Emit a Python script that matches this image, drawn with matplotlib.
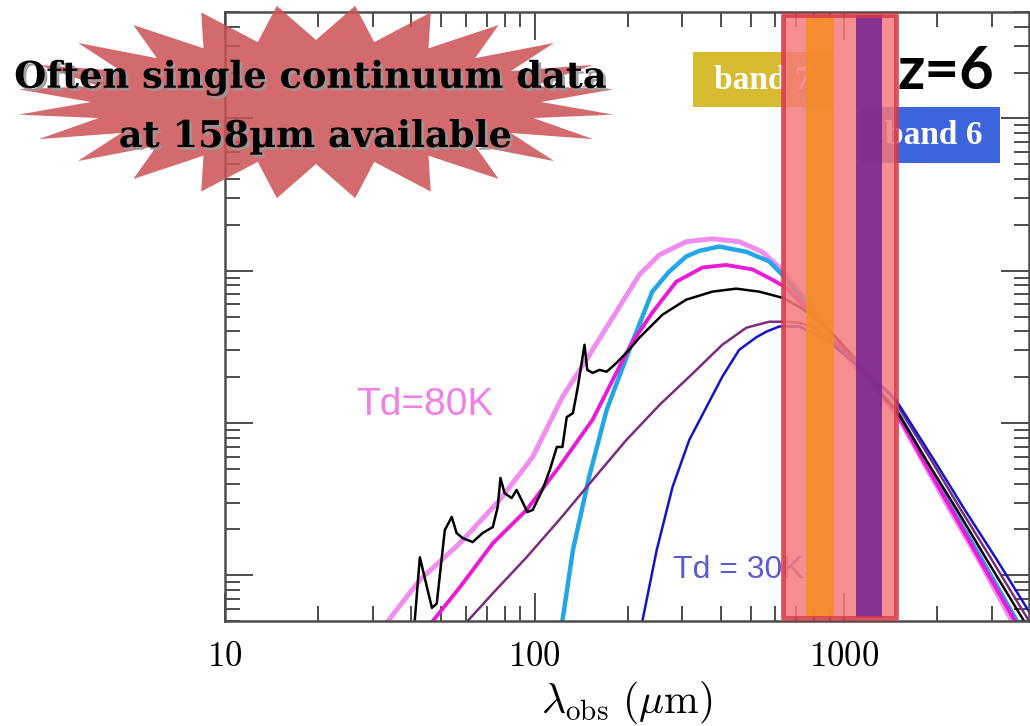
import matplotlib
matplotlib.use("Agg")
import matplotlib.pyplot as plt
import matplotlib.patheffects as pe
from matplotlib.patches import Polygon, Rectangle
from matplotlib.ticker import LogLocator, FuncFormatter, NullFormatter
import numpy as np

plt.rcParams['mathtext.fontset'] = 'cm'

lam_80k = [33.6, 42.6, 57.3, 77.1, 98.6, 123, 147, 188, 218, 253, 309, 375, 458,
           544, 631, 771, 964, 1230, 1472, 1786, 2198, 2723, 3483]
f_80k = [0.50, 0.93, 1.62, 3.11, 5.98, 14.8, 26.0, 58.0, 94.2, 127, 155, 162, 155,
         133, 101, 59.8, 31.6, 17.3, 11.6, 5.71, 2.68, 1.26, 0.50]

lam_cyan = [123, 133, 150, 171, 207, 240, 272, 309, 341, 395, 483, 573, 631, 771,
            964, 1472, 1825, 2248, 2789, 3616]
f_cyan = [0.50, 1.46, 4.41, 12.2, 34.1, 72.8, 98.5, 124, 135, 144, 133, 115, 94.2,
          57.1, 32.6, 12.2, 5.71, 2.68, 1.26, 0.50]

lam_mag = [46.9, 57.3, 73.3, 94.2, 120, 154, 188, 207, 240, 287, 349, 416, 505,
           586, 650, 771, 964, 1472, 1799, 2228, 2747, 3563]
f_mag = [0.50, 0.83, 1.62, 2.68, 5.14, 10.5, 23.4, 34.0, 53.0, 84.7, 105, 109, 102,
         87.3, 77.3, 53.5, 33.6, 11.8, 5.71, 2.68, 1.26, 0.50]

lam_obs = [41.0, 42.6, 46.6, 48.3, 51.3, 54.0, 56.0, 58.6, 63.1, 67.9, 73.3, 76.0,
           77.6, 80.0, 84.3, 87.5, 94.8, 98.6, 106, 112, 118, 123, 127, 133, 138,
           145, 148, 154, 162, 171, 184, 202, 218, 259, 309, 375, 448, 532, 631,
           716, 875, 1094, 1297, 1472, 1840, 2316, 2891, 3811]
f_obs = [0.50, 1.31, 0.61, 0.65, 1.98, 2.41, 1.89, 1.75, 1.65, 1.89, 2.07, 2.80,
         4.35, 3.46, 3.21, 3.63, 2.60, 2.68, 3.63, 4.91, 6.95, 6.95, 10.9, 11.6,
         17.3, 32.6, 22.3, 21.3, 22.3, 21.7, 24.8, 30.2, 36.3, 51.4, 64.5, 72.8,
         76.2, 72.8, 66.4, 58.0, 42.8, 26.0, 15.8, 12.2, 5.71, 2.68, 1.26, 0.50]

lam_purple = [60.8, 73.3, 94.2, 120, 154, 198, 253, 316, 404, 483, 573, 650, 716,
              788, 1062, 1397, 1472, 1909, 2385, 3000, 3955]
f_purple = [0.50, 0.76, 1.31, 2.30, 4.22, 7.73, 13.1, 20.1, 32.6, 42.2, 46.2, 46.2,
            45.5, 42.8, 27.2, 15.8, 13.5, 5.71, 2.68, 1.26, 0.50]

lam_30k = [223, 248, 279, 316, 359, 404, 458, 520, 560, 617, 716, 875, 1117, 1472,
           1951, 2455, 3116, 4130]
f_30k = [0.50, 1.46, 3.79, 7.73, 12.7, 20.1, 30.2, 36.5, 39.7, 43.0, 43.0, 35.2,
         23.4, 14.1, 5.71, 2.68, 1.26, 0.50]

# ALMA coverage (um)
alma_range = (635, 1472)
band7 = (754, 929)
band6 = (1094, 1327)

xticks = [10, 100, 1000]

fig = plt.figure(figsize=(10.30, 7.26), dpi=100)
ax = fig.add_axes([225 / 1030, 105 / 726, 804 / 1030, 609 / 726])
ax.set_xscale('log')
ax.set_yscale('log')
ax.set_xlim(10, 3955)
ax.set_ylim(0.5, 5000)

ax.plot(lam_80k, f_80k, color='#ee82ee', lw=3.6, alpha=0.9, zorder=2)
ax.plot(lam_cyan, f_cyan, color='#22a6e6', lw=3.2, zorder=2)
ax.plot(lam_mag, f_mag, color='#e81cd8', lw=2.8, zorder=2)
ax.plot(lam_obs, f_obs, color='black', lw=1.8, zorder=2)
ax.plot(lam_purple, f_purple, color='#7a2c80', lw=1.8, zorder=2)
ax.plot(lam_30k, f_30k, color='#1414cc', lw=1.8, zorder=2)

# band label boxes sit under the shaded ALMA range
ax.add_patch(Rectangle((0.582, 0.844), 0.174, 0.090, transform=ax.transAxes,
                       facecolor='#d6ba30', edgecolor='none', zorder=3))
ax.add_patch(Rectangle((0.790, 0.752), 0.174, 0.092, transform=ax.transAxes,
                       facecolor='#3c64dc', edgecolor='none', zorder=3))
ax.text(0.669, 0.887, 'band 7', transform=ax.transAxes, ha='center', va='center',
        color='white', fontsize=24, fontweight='bold', family='Liberation Serif', zorder=3)
ax.text(0.881, 0.797, 'band 6', transform=ax.transAxes, ha='center', va='center',
        color='white', fontsize=24, fontweight='bold', family='Liberation Serif', zorder=3)
ax.text(0.896, 0.902, 'z=6', transform=ax.transAxes, ha='center', va='center',
        color='black', fontsize=43, fontweight='bold', family='Lato', zorder=3)
ax.text(0.249, 0.355, 'Td=80K', transform=ax.transAxes, ha='center', va='center',
        color='#f080e8', fontsize=28, family='Liberation Sans', zorder=3)
ax.text(0.638, 0.084, 'Td = 30K', transform=ax.transAxes, ha='center', va='center',
        color='#5a5ad2', fontsize=23, family='Liberation Sans', zorder=3)

xt = ax.get_xaxis_transform()
ax.add_patch(Rectangle((alma_range[0], 0.005), alma_range[1] - alma_range[0], 0.99,
                       transform=xt, facecolor='#f47a7a', alpha=0.85,
                       edgecolor='none', zorder=4))
ax.add_patch(Rectangle((band7[0], 0.005), band7[1] - band7[0], 0.99, transform=xt,
                       facecolor='#f38c28', alpha=0.9, edgecolor='none', zorder=4))
ax.add_patch(Rectangle((band6[0], 0.005), band6[1] - band6[0], 0.99, transform=xt,
                       facecolor='#7b2891', alpha=0.9, edgecolor='none', zorder=4))
ax.add_patch(Rectangle((alma_range[0], 0.005), alma_range[1] - alma_range[0], 0.99,
                       transform=xt, facecolor='none', edgecolor='#d83a48',
                       lw=3.5, alpha=0.85, joinstyle='round', zorder=5))

for s in ax.spines.values():
    s.set_color('#4d4d4d')
    s.set_linewidth(1.8)
ax.xaxis.set_major_locator(LogLocator(base=10, numticks=10))
ax.xaxis.set_minor_locator(LogLocator(base=10, subs=np.arange(2, 10), numticks=20))
ax.yaxis.set_major_locator(LogLocator(base=10, numticks=10))
ax.yaxis.set_minor_locator(LogLocator(base=10, subs=np.arange(2, 10), numticks=20))
ax.xaxis.set_major_formatter(FuncFormatter(
    lambda v, p: '$%d$' % round(v) if round(v) in xticks else ''))
ax.xaxis.set_minor_formatter(NullFormatter())
ax.yaxis.set_major_formatter(NullFormatter())
ax.yaxis.set_minor_formatter(NullFormatter())
ax.tick_params(which='both', direction='in', top=True, right=True,
               color='#4d4d4d', width=1.4)
ax.tick_params(which='major', length=20, pad=13, labelsize=25)
ax.tick_params(which='minor', length=10.5)
ax.set_xlabel(r'$\lambda_{\rm obs}\ (\mu{\rm m})$', fontsize=30, labelpad=4)

# starburst callout in figure pixels
n = 24
ang = np.linspace(0, 2 * np.pi, 2 * n, endpoint=False) + np.pi / n
rx = np.where(np.arange(2 * n) % 2 == 0, 300, 225)
ry = np.where(np.arange(2 * n) % 2 == 0, 97, 62)
px = 316 + rx * np.cos(ang)
py = 102 + ry * np.sin(ang)
star = Polygon(np.column_stack([px / 1030, 1 - py / 726]), closed=True,
               transform=fig.transFigure, facecolor='#cc5054', alpha=0.85,
               edgecolor='none', zorder=5)
fig.add_artist(star)
shadow = [pe.SimplePatchShadow(offset=(2, -2), shadow_rgbFace='#9a9a9a', alpha=0.9),
          pe.Normal()]
fig.text(310 / 1030, 1 - 78 / 726, 'Often single continuum data', ha='center',
         va='center', fontsize=26.5, fontweight='bold', family='DejaVu Serif',
         path_effects=shadow, zorder=6)
fig.text(315 / 1030, 1 - 137 / 726, 'at 158\u00b5m available', ha='center',
         va='center', fontsize=26.5, fontweight='bold', family='DejaVu Serif',
         path_effects=shadow, zorder=6)

plt.savefig('out.png', dpi=100)
